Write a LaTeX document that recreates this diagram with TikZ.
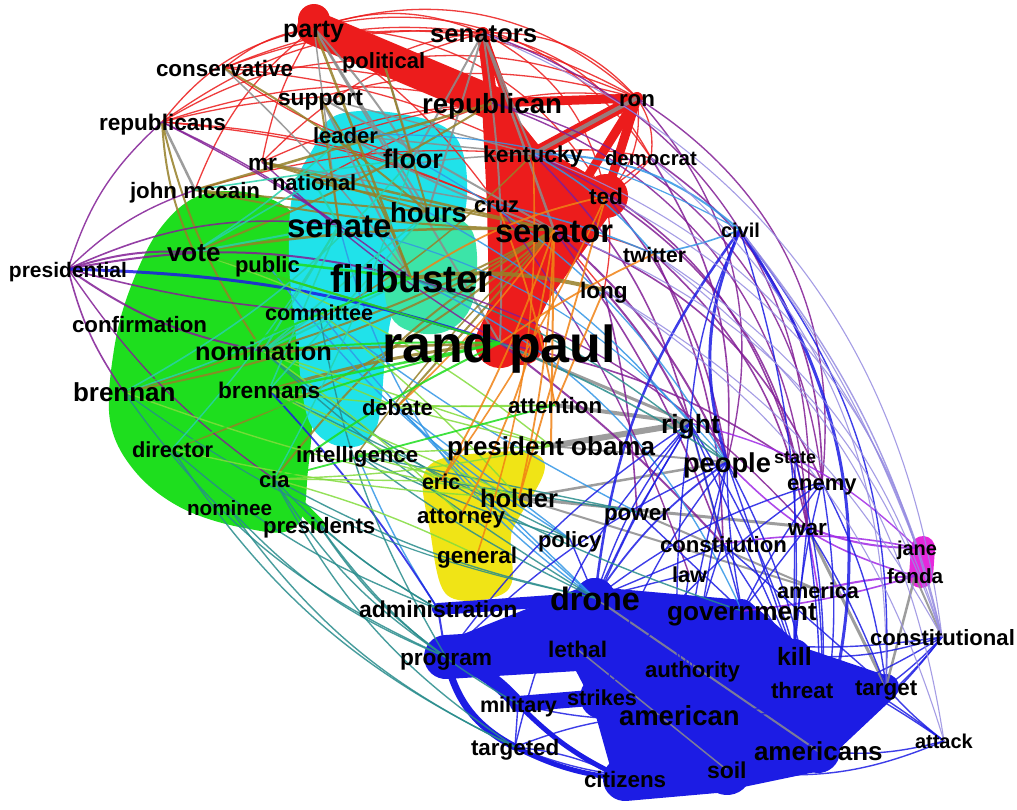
\documentclass[tikz,border=0pt]{standalone}
\usepackage{fontspec}
\setmainfont{Liberation Sans}
\definecolor{cRed}{RGB}{236,28,28}
\definecolor{cCyan}{RGB}{32,226,234}
\definecolor{cGreen}{RGB}{30,222,30}
\definecolor{cYellow}{RGB}{240,228,22}
\definecolor{cBlue}{RGB}{28,28,228}
\definecolor{cMag}{RGB}{230,40,220}
\definecolor{cPurple}{RGB}{130,30,150}
\definecolor{cOlive}{RGB}{150,128,40}
\definecolor{cGray}{RGB}{140,140,140}
\definecolor{cOrange}{RGB}{240,130,20}
\definecolor{cTeal}{RGB}{40,140,140}
\definecolor{cLBlue}{RGB}{50,150,230}
\definecolor{cLav}{RGB}{150,140,225}
\definecolor{cViolet}{RGB}{160,40,230}
\definecolor{cLGreen}{RGB}{130,220,60}
\definecolor{cAqua}{RGB}{40,210,170}
\definecolor{cSea}{RGB}{60,228,168}
\newcommand\wlab[5]{\node[lbl,font=\bfseries\fontsize{#4}{#4}\selectfont] (t-#1) at (#2,#3) {#5};}
\newcommand\edgeset[2]{\foreach \a/\b/\c/\w in {#2} \draw[line width=\w pt, opacity=0.85, #1] (\a) to[bend left=\c] (\b);}
\newcommand\blobset[2]{\foreach \a/\b/\c/\w in {#2} \draw[line width=\w pt, line cap=round, #1] (\a) to[bend left=\c] (\b);}
\begin{document}
\begin{tikzpicture}[x=1pt,y=-1pt,
  lbl/.style={anchor=base west, inner sep=0pt, outer sep=0pt},
  hull/.style={line join=round, line width=#1}]
\fill[white] (0,0) rectangle (1017,809);
\useasboundingbox (0,0) rectangle (1017,809);
% node centres
\coordinate (party) at (314,28);
\coordinate (senators) at (483,33);
\coordinate (political) at (383,60);
\coordinate (conservative) at (224,68);
\coordinate (support) at (320,97);
\coordinate (republican) at (492,103);
\coordinate (ron) at (637,98);
\coordinate (republicans) at (162,122);
\coordinate (leader) at (345,135);
\coordinate (floor) at (413,158);
\coordinate (kentucky) at (533,154);
\coordinate (democrat) at (651,158);
\coordinate (mr) at (262,162);
\coordinate (national) at (314,182);
\coordinate (johnmccain) at (195,190);
\coordinate (cruz) at (497,204);
\coordinate (ted) at (606,196);
\coordinate (hours) at (428,212);
\coordinate (senate) at (339,225);
\coordinate (senator) at (554,230);
\coordinate (civil) at (740,230);
\coordinate (twitter) at (654,254);
\coordinate (presidential) at (68,269);
\coordinate (vote) at (194,252);
\coordinate (public) at (267,264);
\coordinate (filibuster) at (411,278);
\coordinate (long) at (604,290);
\coordinate (confirmation) at (139,324);
\coordinate (committee) at (319,312);
\coordinate (nomination) at (263,351);
\coordinate (randpaul) at (500,343);
\coordinate (brennan) at (124,392);
\coordinate (brennans) at (269,390);
\coordinate (debate) at (397,407);
\coordinate (attention) at (555,405);
\coordinate (right) at (690,423);
\coordinate (director) at (172,449);
\coordinate (intelligence) at (357,454);
\coordinate (presobama) at (551,446);
\coordinate (state) at (795,458);
\coordinate (people) at (727,462);
\coordinate (cia) at (274,479);
\coordinate (eric) at (441,481);
\coordinate (enemy) at (822,482);
\coordinate (holder) at (519,498);
\coordinate (nominee) at (229,508);
\coordinate (attorney) at (461,515);
\coordinate (power) at (637,512);
\coordinate (presidents) at (319,525);
\coordinate (policy) at (570,539);
\coordinate (war) at (807,527);
\coordinate (constitution) at (723,544);
\coordinate (jane) at (917,548);
\coordinate (general) at (477,555);
\coordinate (law) at (689,574);
\coordinate (fonda) at (915,576);
\coordinate (america) at (818,590);
\coordinate (drone) at (595,598);
\coordinate (administration) at (438,609);
\coordinate (government) at (742,611);
\coordinate (constitutional) at (942,637);
\coordinate (program) at (446,657);
\coordinate (lethal) at (577,649);
\coordinate (kill) at (794,656);
\coordinate (authority) at (692,669);
\coordinate (threat) at (802,690);
\coordinate (target) at (886,687);
\coordinate (military) at (518,704);
\coordinate (strikes) at (602,697);
\coordinate (american) at (680,715);
\coordinate (targeted) at (515,747);
\coordinate (attack) at (944,741);
\coordinate (americans) at (818,751);
\coordinate (soil) at (727,770);
\coordinate (citizens) at (625,779);
% outline points of the dense bundles
\foreach \n/\x/\y in {gr1/205/200, gr2/262/202, gr3/298/232, gr4/296/300, gr5/292/345, gr6/306/400, gr7/302/470, gr8/292/522, gr9/245/522, gr10/185/503, gr11/140/468, gr12/116/420, gr13/120/350, gr14/136/290, gr15/165/232}
  \coordinate (\n) at (\x,\y);
\foreach \n/\x/\y in {cy1/338/120, cy2/395/118, cy3/450/138, cy4/462/195, cy5/445/245, cy6/395/300, cy7/382/340, cy8/372/425, cy9/345/442, cy10/314/420, cy11/302/345, cy12/294/260, cy13/298/192, cy14/318/150}
  \coordinate (\n) at (\x,\y);
\foreach \n/\x/\y in {aq1/430/222, aq2/468/234, aq3/468/300, aq4/440/328, aq5/398/318, aq6/392/268}
  \coordinate (\n) at (\x,\y);
\foreach \n/\x/\y in {ye1/455/463, ye2/537/463, ye3/505/530, ye4/503/585, ye5/452/590, ye6/437/530, ye7/430/478}
  \coordinate (\n) at (\x,\y);
% ---------- thick bundles ----------
% green
\filldraw[cGreen, hull=12pt] plot[smooth cycle, tension=0.6] coordinates {(gr1) (gr2) (gr3) (gr4) (gr5) (gr6) (gr7) (gr8) (gr9) (gr10) (gr11) (gr12) (gr13) (gr14) (gr15)};
\blobset{cGreen}{presidents/cia/0/12}
% cyan
\filldraw[cCyan, hull=10pt] plot[smooth cycle, tension=0.6] coordinates {(cy1) (cy2) (cy3) (cy4) (cy5) (cy6) (cy7) (cy8) (cy9) (cy10) (cy11) (cy12) (cy13) (cy14)};
\filldraw[cSea, hull=10pt] plot[smooth cycle, tension=0.6] coordinates {(aq1) (aq2) (aq3) (aq4) (aq5) (aq6)};
% yellow
\filldraw[cYellow, hull=14pt] plot[smooth cycle, tension=0.5] coordinates {(ye1) (ye2) (ye3) (ye4) (ye5) (ye6) (ye7)};
% red
\filldraw[cRed, hull=20pt] (republican) -- (kentucky) -- (ted) -- (senator) -- (randpaul) -- (cruz) -- cycle;
\blobset{cRed}{party/republican/0/34, party/political/0/26, political/republican/0/28, senators/republican/0/12, senators/senator/0/7, ron/kentucky/0/12, ron/senator/0/9, ron/ted/0/9, ron/republican/0/9, kentucky/ted/0/20, senator/randpaul/0/50, ted/randpaul/0/28}
\fill[cRed] ([yshift=8pt]party) circle (16pt);
\fill[cRed] (ted) circle (22pt);
\fill[cRed] ([xshift=22pt]randpaul) circle (22pt);
% blue
\filldraw[cBlue, hull=22pt] (program) -- (drone) -- (government) -- (kill) -- (target) -- (americans) -- (soil) -- (citizens) -- (strikes) -- (lethal) -- cycle;
\blobset{cBlue}{program/lethal/0/44, program/drone/0/30, drone/lethal/0/40, drone/american/0/40, drone/strikes/0/30, strikes/american/0/44, lethal/american/0/36, american/soil/0/50, american/citizens/0/40, citizens/soil/0/44, soil/americans/0/40, american/americans/0/44, kill/americans/0/34, kill/american/0/30, government/kill/0/24, government/american/0/22, threat/americans/0/30, target/americans/0/26, kill/threat/0/30, authority/american/0/30, target/kill/0/18, drone/government/0/16, military/program/-15/14, military/strikes/0/16, administration/drone/0/12, program/targeted/-25/7, targeted/citizens/-10/5, military/citizens/-10/5}
% magenta
\draw[cMag, line width=24pt, line cap=round] ([xshift=6pt]jane) -- ([xshift=6pt]fonda);
% ---------- thin edges ----------
\edgeset{cRed}{party/senators/20/1.3, party/ron/30/1.3, party/democrat/35/1.3, senators/ron/25/1.3, senators/democrat/25/1.3, conservative/party/15/1.3, conservative/republican/10/1.3, conservative/senators/15/1.3, conservative/kentucky/10/1.3, republicans/party/20/1.3, republicans/republican/15/1.3, republicans/senator/10/1.3, republicans/support/5/1.3, republicans/political/15/1.3, johnmccain/party/15/1.3, mr/republican/10/1.3, mr/party/10/1.3, support/ron/15/1.3, political/ron/15/1.3, political/senators/10/1.3, republican/ron/10/1.3, ron/democrat/20/1.3, ron/ted/25/1.3, democrat/ted/10/1.3, party/ted/30/1.3, senators/ted/25/1.3, leader/republican/5/1.3, senator/twitter/10/1.3, kentucky/democrat/10/1.3, party/cruz/10/1.3, conservative/floor/-10/1.3, republicans/cruz/10/1.3, johnmccain/kentucky/10/1.3, national/republican/5/1.3, mr/senators/15/1.3, conservative/ron/25/1.3, republicans/senators/20/1.3, senator/long/0/1.3, ted/long/10/1.3, democrat/senator/0/1.3, republican/senator/0/3, republican/cruz/5/4, kentucky/senator/0/6}
\edgeset{cGray}{party/hours/0/2, party/floor/5/2, party/senate/0/1.5, senators/floor/0/2, senators/hours/0/2, senators/senator/0/2.5, senators/kentucky/0/2, support/senator/0/2, leader/senator/-5/2, support/kentucky/0/1.5, political/floor/0/2, republicans/johnmccain/0/2.5, support/filibuster/0/2, conservative/filibuster/5/1.5, party/randpaul/0/2, senators/randpaul/5/2, leader/kentucky/0/1.5, national/kentucky/5/1.5, mr/cruz/0/1.5, ron/kentucky/0/4, presobama/right/0/6, attention/right/0/4, randpaul/right/0/3, holder/war/0/3, right/constitution/0/2, war/target/0/3, fonda/target/0/2.5, drone/americans/0/2, lethal/soil/0/1.5, people/holder/0/2.5, presobama/people/0/2, fonda/constitutional/0/2, power/america/0/2, holder/america/0/2}
\edgeset{cOlive}{vote/senator/5/2.5, johnmccain/republican/0/2.5, johnmccain/senator/-5/2, republicans/nomination/-10/2, mr/senator/0/2.5, nomination/randpaul/0/2.5, brennans/randpaul/5/3, cia/senator/10/2, party/filibuster/0/2.5, support/filibuster/5/2, political/hours/0/2, conservative/hours/5/2, nomination/senator/-5/2, brennan/senator/-10/2, filibuster/long/10/4, vote/randpaul/0/2, vote/republican/-5/2, national/senator/0/2, brennan/kentucky/-15/1.5, director/senator/-10/2, republicans/vote/-10/2, debate/senator/0/2, intelligence/senator/5/1.5, johnmccain/hours/0/2, mr/hours/0/2, support/senate/0/2}
\edgeset{cPurple}{democrat/enemy/28/1.6, democrat/people/18/1.6, ted/war/25/1.6, senator/enemy/22/1.6, twitter/constitution/12/1.6, long/right/8/2, senator/people/12/2, republican/enemy/35/1.4, senators/war/38/1.4, kentucky/state/25/1.6, ron/enemy/32/1.4, long/power/5/1.6, twitter/war/18/1.6, senator/constitution/8/1.6, cruz/law/8/1.4, ted/people/15/1.6, kentucky/right/15/1.6, randpaul/constitution/5/2, randpaul/enemy/12/1.6, filibuster/war/15/1.4, presidential/vote/10/2, presidential/republicans/15/1.4, presidential/filibuster/12/2, presidential/nomination/-12/2, presidential/brennan/-10/1.6, johnmccain/presidential/-12/1.4, republicans/filibuster/5/1.4, presidential/senate/15/1.6, mr/randpaul/-5/1.4, republicans/senate/5/1.4, presidential/committee/-5/1.6, presidential/cia/-10/1.4, republican/war/35/1.4, ron/people/28/1.4}
\edgeset{cViolet}{jane/war/10/2, jane/constitution/-10/1.6, fonda/america/-5/2, fonda/people/15/1.6, jane/right/-15/1.4, fonda/government/5/1.6, war/america/0/1.6}
\edgeset{cLBlue}{kentucky/civil/20/2, twitter/civil/-5/1.6, twitter/kentucky/-10/1.6, debate/drone/0/1.4, committee/power/-5/1.4, senate/drone/-20/1.4, public/policy/-10/1.4, filibuster/government/20/1.4, floor/people/15/1.4, hours/right/10/1.4, cruz/twitter/5/1.6, senate/people/18/1.2, committee/drone/-5/1.4, debate/policy/0/1.4, intelligence/administration/-5/1.4, leader/civil/15/1.2}
\edgeset{cBlue}{civil/people/-20/3, civil/target/20/1.4, civil/americans/25/3, civil/kill/10/1.4, civil/drone/-15/2.5, right/kill/0/1.4, right/american/-5/1.4, right/americans/10/1.4, right/drone/-10/1.4, people/americans/10/1.4, people/kill/0/1.4, people/drone/-10/1.8, people/government/-5/1.4, enemy/americans/10/1.4, enemy/kill/-5/1.4, enemy/drone/-10/1.4, war/americans/5/1.4, war/target/5/1.4, constitution/american/-5/1.4, constitution/drone/0/1.4, constitutional/americans/10/1.4, constitutional/target/5/1.4, constitutional/kill/10/1.4, constitutional/drone/15/1.4, constitutional/american/15/1.4, attack/americans/10/1.4, attack/target/5/1.4, attack/drone/-15/1.4, attack/kill/-5/1.4, target/drone/10/1.4, threat/target/0/1.4, america/americans/5/1.4, law/drone/0/1.4, power/drone/0/1.4, policy/drone/0/1.4, administration/drone/0/2, administration/program/0/2, military/targeted/0/1.4, military/american/-10/1.4, targeted/american/10/1.4, targeted/soil/-15/1.4, citizens/targeted/-10/1.4, people/strikes/-10/1.4, right/power/0/1.4, presidential/randpaul/8/3, brennans/administration/5/1.8, right/government/0/1.4, people/american/-5/1.4, state/americans/10/1.4, enemy/target/10/1.4, war/kill/0/1.4, power/government/0/1.4, law/american/-5/1.4, civil/right/-10/1.4, people/authority/0/1.4, enemy/government/-5/1.4, right/lethal/-5/1.4, right/program/-10/1.4, constitution/kill/0/1.4, attack/soil/15/1.4, constitutional/soil/20/1.4, target/american/10/1.4, people/program/-10/1.4, enemy/strikes/-10/1.4, state/kill/0/1.4, war/government/0/1.4, constitution/target/0/1.4, right/targeted/-15/1.4}
\edgeset{cLav}{senator/constitutional/25/1.1, twitter/constitutional/20/1.1, democrat/target/25/1.1, civil/constitutional/12/1.4, long/attack/20/1.1, kentucky/jane/25/1.1, senators/constitutional/30/1.1, ted/constitutional/25/1.1, twitter/attack/22/1.1, civil/jane/8/1.1, long/constitutional/15/1.1}
\edgeset{cTeal}{cia/program/-12/1.4, nominee/program/-12/1.4, presidents/program/-10/1.6, presidents/administration/-5/1.4, director/targeted/-15/1.4, cia/administration/-8/1.4, cia/drone/-8/1.4, intelligence/drone/-5/1.4, intelligence/policy/-5/1.4, nomination/drone/-5/1.4, brennan/program/-15/1.4, presidents/military/-12/1.4, cia/targeted/-14/1.4, brennans/policy/0/1.4, director/administration/-10/1.4, nominee/targeted/-14/1.4, intelligence/power/0/1.4, eric/power/0/1.4, randpaul/people/5/1.6, filibuster/people/10/1.4, nomination/government/-10/1.4, committee/program/-10/1.4, brennan/drone/-12/1.2}
\edgeset{cLGreen}{brennan/holder/-5/1.4, cia/eric/0/1.4, intelligence/presobama/0/1.4, nomination/attorney/5/1.4, director/holder/-5/1.4, brennans/eric/0/1.4, cia/general/5/1.4, vote/presobama/10/1.4, committee/holder/5/1.4, nomination/presobama/0/1.4, brennans/holder/0/1.4, cia/presobama/-5/1.4, intelligence/holder/0/1.4, debate/presobama/0/1.4, debate/attention/0/1.4, brennans/attention/-5/1.4, nomination/debate/0/1.4}
\edgeset{cOrange}{senator/holder/5/1.8, senator/attorney/10/1.8, senator/presobama/0/2, cruz/attention/5/1.8, senator/eric/5/1.8, long/attention/0/1.8, ted/holder/0/1.8, kentucky/general/10/1.6, twitter/randpaul/-5/1.8, senator/debate/5/1.6, ted/eric/5/1.6, filibuster/ted/10/1.8}
\edgeset{cAqua}{senate/vote/0/2, senate/nomination/0/2, floor/brennan/10/1.6, hours/nomination/0/1.6, johnmccain/floor/0/1.6, national/senate/0/2, senate/brennans/0/1.6, filibuster/nomination/0/2, committee/nomination/0/2, leader/vote/5/1.6, national/vote/0/1.6, hours/brennans/0/1.6, floor/cia/5/1.4, senate/director/5/1.4, committee/brennan/5/1.6}
\edgeset{cGreen}{vote/randpaul/0/2, nomination/randpaul/3/2, brennans/randpaul/0/2.5, cia/randpaul/5/2, director/randpaul/5/2, brennan/filibuster/0/1.8, cia/attention/0/1.8, vote/filibuster/0/2.5}
% ---------- labels ----------
\wlab{party}{283}{37}{25}{party}
\wlab{senators}{430}{42}{25.7}{senators}
\wlab{political}{342}{68}{22}{political}
\wlab{conservative}{156}{76}{22.4}{conservative}
\wlab{support}{278}{105}{22.8}{support}
\wlab{republican}{422}{113}{27.7}{republican}
\wlab{ron}{619}{106}{22.3}{ron}
\wlab{republicans}{99}{130}{22.6}{republicans}
\wlab{leader}{313}{143}{22}{leader}
\wlab{floor}{383}{168}{27}{floor}
\wlab{kentucky}{483}{162}{23}{kentucky}
\wlab{democrat}{605}{165}{20.4}{democrat}
\wlab{mr}{248}{170}{22.7}{mr}
\wlab{national}{272}{190}{22}{national}
\wlab{johnmccain}{130}{198}{22.3}{john mccain}
\wlab{cruz}{474}{212}{22}{cruz}
\wlab{ted}{589}{204}{22.7}{ted}
\wlab{hours}{390}{222}{27.7}{hours}
\wlab{senate}{287}{237}{33}{senate}
\wlab{senator}{495}{242}{32.7}{senator}
\wlab{civil}{721}{237}{20}{civil}
\wlab{twitter}{623}{262}{21}{twitter}
\wlab{presidential}{9}{277}{21}{presidential}
\wlab{vote}{167}{261}{26}{vote}
\wlab{public}{235}{272}{22}{public}
\wlab{filibuster}{330}{292}{38.6}{filibuster}
\wlab{long}{580}{298}{22.6}{long}
\wlab{confirmation}{72}{332}{22.3}{confirmation}
\wlab{committee}{265}{320}{21.6}{committee}
\wlab{nomination}{195}{360}{25.4}{nomination}
\wlab{randpaul}{382}{362}{52}{rand paul}
\wlab{brennan}{73}{401}{26}{brennan}
\wlab{brennans}{218}{398}{22.7}{brennans}
\wlab{debate}{362}{415}{22}{debate}
\wlab{attention}{508}{413}{22.3}{attention}
\wlab{right}{661}{433}{26.5}{right}
\wlab{director}{132}{457}{21.8}{director}
\wlab{intelligence}{296}{462}{22.2}{intelligence}
\wlab{presobama}{447}{455}{26}{president obama}
\wlab{state}{774}{463}{18}{state}
\wlab{people}{683}{472}{27.3}{people}
\wlab{cia}{259}{487}{22}{cia}
\wlab{eric}{422}{489}{21.5}{eric}
\wlab{enemy}{787}{490}{22}{enemy}
\wlab{holder}{480}{507}{25.5}{holder}
\wlab{nominee}{187}{515}{20.7}{nominee}
\wlab{attorney}{417}{523}{22.3}{attorney}
\wlab{power}{604}{520}{22.4}{power}
\wlab{presidents}{263}{533}{22.2}{presidents}
\wlab{policy}{538}{547}{22}{policy}
\wlab{war}{788}{535}{22.6}{war}
\wlab{constitution}{660}{552}{22.2}{constitution}
\wlab{jane}{897}{555}{20}{jane}
\wlab{general}{437}{563}{22.5}{general}
\wlab{law}{672}{582}{21.7}{law}
\wlab{fonda}{887}{583}{20.6}{fonda}
\wlab{america}{777}{598}{21.7}{america}
\wlab{drone}{550}{610}{32.4}{drone}
\wlab{administration}{359}{617}{23}{administration}
\wlab{government}{667}{620}{26.2}{government}
\wlab{constitutional}{870}{645}{22.1}{constitutional}
\wlab{program}{400}{665}{22.7}{program}
\wlab{lethal}{548}{657}{22.6}{lethal}
\wlab{kill}{777}{665}{25}{kill}
\wlab{authority}{645}{677}{22.2}{authority}
\wlab{threat}{771}{698}{22.4}{threat}
\wlab{target}{855}{695}{22.4}{target}
\wlab{military}{480}{712}{21.6}{military}
\wlab{strikes}{567}{705}{21.7}{strikes}
\wlab{american}{619}{725}{27.5}{american}
\wlab{targeted}{471}{755}{22.4}{targeted}
\wlab{attack}{915}{748}{20}{attack}
\wlab{americans}{754}{760}{26}{americans}
\wlab{soil}{707}{778}{23}{soil}
\wlab{citizens}{584}{787}{22.4}{citizens}
\end{tikzpicture}
\end{document}
